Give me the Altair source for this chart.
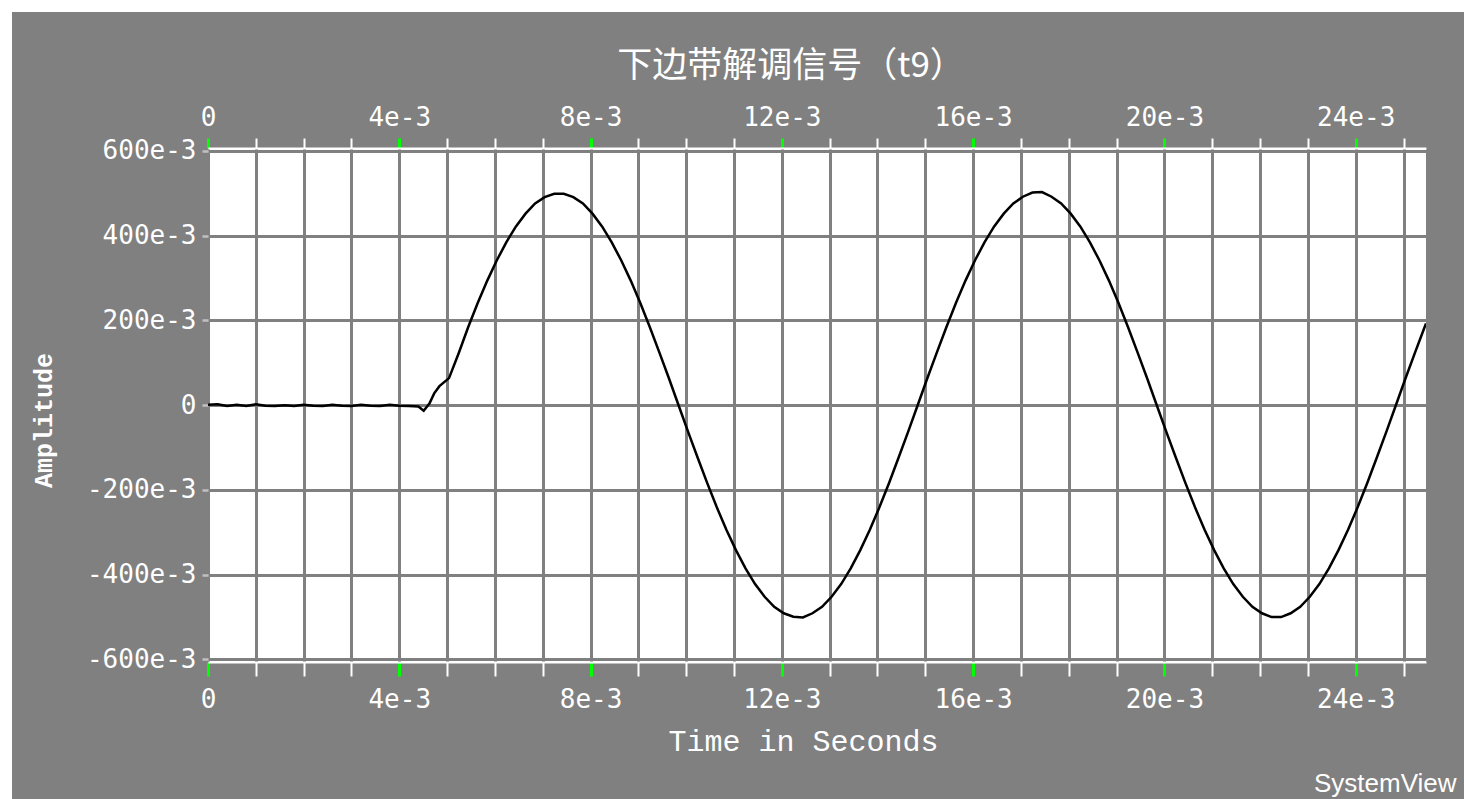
import altair as alt
import pandas as pd

TITLE = "下边带解调信号（t9）"
X_TITLE = "Time in Seconds"
Y_TITLE = "Amplitude"
WATERMARK = "SystemView"

# time in milliseconds
T_MS = [0.0, 0.2, 0.4, 0.6, 0.8, 1.0, 1.2, 1.4, 1.6, 1.8, 2.0, 2.2, 2.4, 2.6, 2.8,
        3.0, 3.2, 3.4, 3.6, 3.8, 4.0, 4.2, 4.4, 4.51, 4.63, 4.73, 4.84,
        5.04, 5.24, 5.44, 5.64, 5.84, 6.04, 6.24, 6.44, 6.64, 6.84,
        7.04, 7.24, 7.44, 7.64, 7.84, 8.04, 8.24, 8.44, 8.64, 8.84,
        9.04, 9.24, 9.44, 9.64, 9.84, 10.04, 10.24, 10.44, 10.64, 10.84,
        11.04, 11.24, 11.44, 11.64, 11.84, 12.04, 12.24, 12.44, 12.64, 12.84,
        13.04, 13.24, 13.44, 13.64, 13.84, 14.04, 14.24, 14.44, 14.64, 14.84,
        15.04, 15.24, 15.44, 15.64, 15.84, 16.04, 16.24, 16.44, 16.64, 16.84,
        17.04, 17.24, 17.44, 17.64, 17.84, 18.04, 18.24, 18.44, 18.64, 18.84,
        19.04, 19.24, 19.44, 19.64, 19.84, 20.04, 20.24, 20.44, 20.64, 20.84,
        21.04, 21.24, 21.44, 21.64, 21.84, 22.04, 22.24, 22.44, 22.64, 22.84,
        23.04, 23.24, 23.44, 23.64, 23.84, 24.04, 24.24, 24.44, 24.64, 24.84,
        25.04, 25.24, 25.44, 25.47]

AMP = [0.001, 0.002, -0.002, 0.001, -0.002, 0.002, -0.001, -0.002, 0.000, -0.002,
       0.001, -0.001, -0.002, 0.001, -0.001, -0.002, 0.001, -0.001, -0.002, 0.001,
       -0.001, -0.002, -0.003, -0.013, 0.004, 0.028, 0.045,
       0.064, 0.122, 0.184, 0.241, 0.294, 0.342, 0.385, 0.422, 0.452, 0.476,
       0.491, 0.499, 0.499, 0.491, 0.476, 0.452, 0.422, 0.385, 0.342, 0.294,
       0.241, 0.184, 0.124, 0.063, 0.000, -0.063, -0.124, -0.184, -0.241, -0.294,
       -0.342, -0.385, -0.422, -0.452, -0.476, -0.491, -0.499, -0.501, -0.491, -0.476,
       -0.452, -0.422, -0.385, -0.342, -0.294, -0.241, -0.184, -0.124, -0.063, 0.000,
       0.063, 0.124, 0.184, 0.241, 0.294, 0.342, 0.385, 0.422, 0.452, 0.476,
       0.492, 0.502, 0.503, 0.492, 0.476, 0.452, 0.422, 0.385, 0.342, 0.294,
       0.241, 0.184, 0.124, 0.063, 0.000, -0.063, -0.124, -0.184, -0.241, -0.294,
       -0.342, -0.385, -0.422, -0.452, -0.476, -0.491, -0.500, -0.500, -0.491, -0.476,
       -0.452, -0.422, -0.385, -0.342, -0.294, -0.241, -0.184, -0.124, -0.063, 0.000,
       0.063, 0.124, 0.184, 0.193]

X_TICKS_MS = list(range(0, 26))
Y_TICKS = [-0.6, -0.4, -0.2, 0.0, 0.2, 0.4, 0.6]

df = pd.DataFrame({"t": [v / 1000 for v in T_MS], "a": AMP})
X_TICKS = [v / 1000 for v in X_TICKS_MS]

W, H = 1218, 514
PAD = {"left": 208, "top": 148, "right": 38, "bottom": 137}
GRAY = "#808080"
LABEL_FONT = "DejaVu Sans Mono"

MAJOR = "round(datum.value * 1000) % 4 == 0"
x_label_expr = ("round(datum.value*1000) % 4 == 0 ? (abs(datum.value) < 1e-9 ? '0' : "
                "round(datum.value*1000) + 'e-3') : ''")
y_label_expr = "abs(datum.value) < 1e-9 ? '0' : round(datum.value*1000) + 'e-3'"

xscale = alt.Scale(domain=[0, 0.02547], nice=False, zero=False)
yscale = alt.Scale(domain=[-0.606, 0.607], nice=False, zero=False)

common_x = dict(
    values=X_TICKS, domain=True, domainColor="white", domainWidth=2,
    ticks=True,
    tickColor={"condition": {"test": MAJOR, "value": "#00ff00"}, "value": "white"},
    tickWidth={"condition": {"test": MAJOR, "value": 3}, "value": 2},
    labelExpr=x_label_expr, labelColor="white", labelFont=LABEL_FONT,
    labelFontSize=26, labelOverlap=False, labelFlush=False, labelBound=False,
)

x_bottom = alt.Axis(
    orient="bottom", grid=True, gridColor=GRAY, gridWidth=3, gridOpacity=1,
    tickSize=14, labelPadding=10,
    title=X_TITLE, titleColor="white", titleFont="Liberation Mono",
    titleFontSize=30, titleFontWeight="normal",
    titleX=595, titleY=79, titleBaseline="middle", titleAlign="center",
    **common_x,
)
x_top = alt.Axis(
    orient="top", grid=False, tickSize=10, labelPadding=8, title=None,
    **common_x,
)
y_axis = alt.Axis(
    values=Y_TICKS, grid=True, gridColor=GRAY, gridWidth=3, gridOpacity=1,
    domain=False, ticks=True, tickColor="#c0c0c0", tickSize=6, tickWidth=2.5,
    labelExpr=y_label_expr, labelColor="white", labelFont=LABEL_FONT,
    labelFontSize=26, labelPadding=6, labelOverlap=False,
    title=Y_TITLE, titleColor="white", titleFont="Liberation Mono",
    titleFontSize=25, titleFontWeight="bold", titleAngle=270,
    titleX=-165, titleY=272, titleBaseline="middle", titleAlign="center",
)

base = alt.Chart(df)
line = base.mark_line(color="black", strokeWidth=2.5, clip=True).encode(
    x=alt.X("t:Q", scale=xscale, axis=x_bottom),
    y=alt.Y("a:Q", scale=yscale, axis=y_axis),
)
top = base.mark_line(opacity=0).encode(
    x=alt.X("t:Q", scale=xscale, axis=x_top),
    y=alt.Y("a:Q", scale=yscale, axis=y_axis),
)

dummy = alt.Chart(pd.DataFrame({"k": [0]}))
strip_left = dummy.mark_rect(color="white").encode(
    x=alt.value(-PAD["left"]), x2=alt.value(-PAD["left"] + 12),
    y=alt.value(-PAD["top"]), y2=alt.value(H + PAD["bottom"]),
)
strip_top = dummy.mark_rect(color="white").encode(
    x=alt.value(-PAD["left"]), x2=alt.value(W + PAD["right"]),
    y=alt.value(-PAD["top"]), y2=alt.value(-PAD["top"] + 12),
)
mark_txt = dummy.mark_text(
    text=WATERMARK, color="white", font="Liberation Sans", fontSize=26,
    align="left", baseline="middle",
).encode(x=alt.value(1106), y=alt.value(636))

chart = alt.layer(line, top, strip_left, strip_top, mark_txt).resolve_axis(
    x="independent"
).properties(
    width=W, height=H,
    title=alt.TitleParams(
        text=TITLE, font="Noto Sans CJK SC", fontSize=35, fontWeight="normal",
        color="white", anchor="middle", frame="group", dx=-26, dy=139, offset=20,
        baseline="bottom",
    ),
    autosize=alt.AutoSizeParams(type="none"),
    padding=PAD,
    background=GRAY,
).configure_view(fill="white", stroke=None)

chart.save("out.html", embed_options={"renderer": "svg", "actions": False})
